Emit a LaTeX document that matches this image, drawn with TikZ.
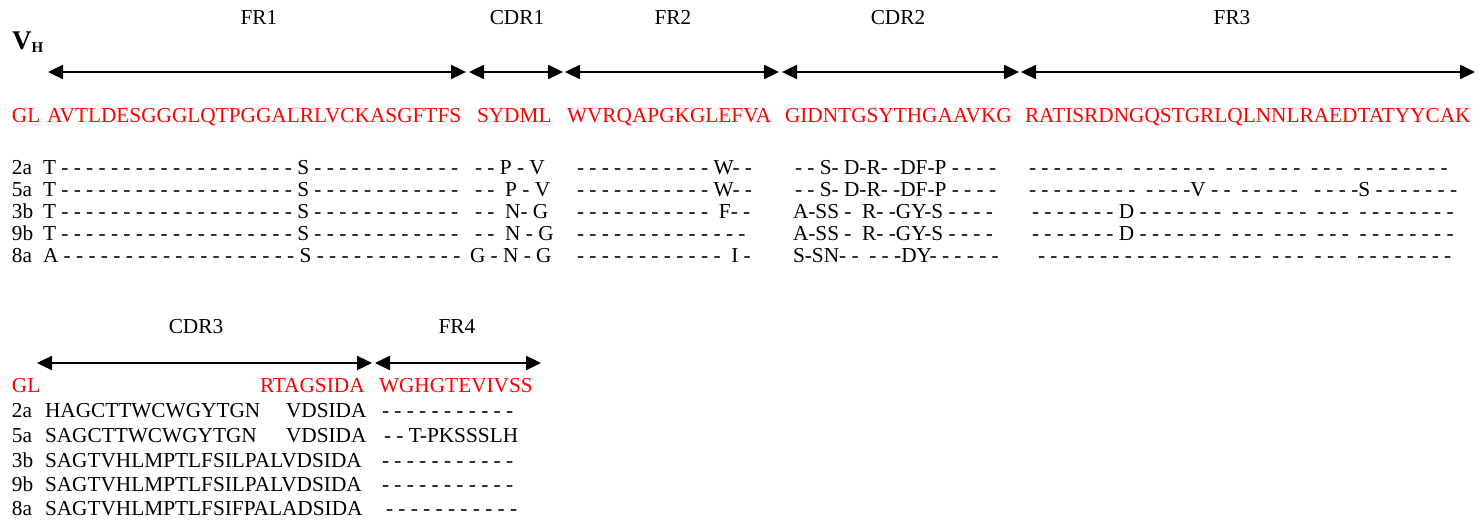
\documentclass[tikz,border=0pt]{standalone}
\usepackage{fontspec}
\setmainfont{Liberation Serif}
\usetikzlibrary{arrows.meta}
\definecolor{seqred}{RGB}{255,0,0}

% a run of n hyphens separated by single spaces
\newcommand\dashrun[1]{\foreach \dk in {1,...,#1}{\ifnum\dk>1 \ \fi-}}

\tikzset{
  txt/.style={anchor=base west, inner sep=0pt, outer sep=0pt, font=\fontsize{21.3}{24}\selectfont},
  germ/.style={txt, text=seqred},
  region/.style={anchor=base, inner sep=0pt, outer sep=0pt, font=\fontsize{21.3}{24}\selectfont},
  span/.style={line width=2.4pt, {Triangle[length=15pt,width=14pt]}-{Triangle[length=15pt,width=14pt]}},
}

\begin{document}
\begin{tikzpicture}[x=1pt,y=-1pt]
\useasboundingbox (0,0) rectangle (1483,521);

% ---------------- upper block: FR1 to FR3 ----------------
\node[anchor=base west, inner sep=0pt, font=\fontsize{27}{28}\selectfont\bfseries] (vh) at (12,50)
  {V\raisebox{-3pt}{\fontsize{15}{16}\selectfont H}};

\node[region] (lFR1)  at (259,25)  {FR1};
\node[region] (lCDR1) at (517,25)  {CDR1};
\node[region] (lFR2)  at (673,25)  {FR2};
\node[region] (lCDR2) at (898,25)  {CDR2};
\node[region] (lFR3)  at (1232,25) {FR3};

\coordinate (fr1a)  at (48,72);   \coordinate (fr1b)  at (466,72);
\coordinate (cdr1a) at (469,72);  \coordinate (cdr1b) at (563,72);
\coordinate (fr2a)  at (565,72);  \coordinate (fr2b)  at (779,72);
\coordinate (cdr2a) at (782,72);  \coordinate (cdr2b) at (1019,72);
\coordinate (fr3a)  at (1021,72); \coordinate (fr3b)  at (1475,72);
\draw[span] (fr1a) -- (fr1b);
\draw[span] (cdr1a) -- (cdr1b);
\draw[span] (fr2a) -- (fr2b);
\draw[span] (cdr2a) -- (cdr2b);
\draw[span] (fr3a) -- (fr3b);

% germline
\node[germ] (gl)    at (12,123)   {GL};
\node[germ] (glFR1) at (47,123)   {AVTLDESGGGLQTPGGALRLVCKASGFTFS};
\node[germ] (glC1)  at (477,123)  {SYDML};
\node[germ] (glFR2) at (567,123)  {WVRQAPGKGLEFVA};
\node[germ] (glC2)  at (785,123)  {GIDNTGSYTHGAAVKG};
\node[germ] (glFR3) at (1025,123) {RATISRDNGQSTGRLQLNNLRAEDTATYYCAK};

% clone 2a
\node[txt] (a2)   at (12,175)   {2a};
\node[txt] (a2f1) at (43,175)   {T \dashrun{19} S \dashrun{12}};
\node[txt] (a2c1) at (475,175)  {- - P - V};
\node[txt] (a2f2) at (577,175)  {\dashrun{11} W- -};
\node[txt] (a2c2) at (795,175)  {- - S- D-R- -DF-P - - - -};
\node[txt] (a2f3) at (1029,175) {\dashrun{8}~~\dashrun{7}~~\dashrun{3}~~\dashrun{3}~~\dashrun{3}~~\dashrun{8}};

% clone 5a
\node[txt] (a5)   at (12,197)   {5a};
\node[txt] (a5f1) at (43,197)   {T \dashrun{19} S \dashrun{12}};
\node[txt] (a5c1) at (475,197)  {- -~~P - V};
\node[txt] (a5f2) at (577,197)  {\dashrun{11} W- -};
\node[txt] (a5c2) at (795,197)  {- - S- D-R- -DF-P - - - -};
\node[txt] (a5f3) at (1029,197) {\dashrun{9}~~\dashrun{4}V \dashrun{2}~~\dashrun{5}~~~\dashrun{4}S \dashrun{7}};

% clone 3b
\node[txt] (b3)   at (12,219)   {3b};
\node[txt] (b3f1) at (43,219)   {T \dashrun{19} S \dashrun{12}};
\node[txt] (b3c1) at (475,219)  {- -~~N- G};
\node[txt] (b3f2) at (577,219)  {\dashrun{11}~~F- -};
\node[txt] (b3c2) at (793,219)  {A-SS -~~R- -GY-S - - - -};
\node[txt] (b3f3) at (1032,219) {\dashrun{7} D \dashrun{7}~~\dashrun{3}~~\dashrun{3}~~\dashrun{3}~~\dashrun{8}};

% clone 9b
\node[txt] (b9)   at (12,241)   {9b};
\node[txt] (b9f1) at (43,241)   {T \dashrun{19} S \dashrun{12}};
\node[txt] (b9c1) at (475,241)  {- -~~N - G};
\node[txt] (b9f2) at (577,241)  {\dashrun{14}};
\node[txt] (b9c2) at (793,241)  {A-SS -~~R- -GY-S - - - -};
\node[txt] (b9f3) at (1032,241) {\dashrun{7} D \dashrun{7}~~\dashrun{3}~~\dashrun{3}~~\dashrun{3}~~\dashrun{8}};

% clone 8a
\node[txt] (a8)   at (12,263)   {8a};
\node[txt] (a8f1) at (43,263)   {A \dashrun{19} S \dashrun{12}};
\node[txt] (a8c1) at (470,263)  {G - N - G};
\node[txt] (a8f2) at (577,263)  {\dashrun{12}~~I -};
\node[txt] (a8c2) at (793,263)  {S-SN- -~~\dashrun{3}DY-\ \dashrun{5}};
\node[txt] (a8f3) at (1038,263) {\dashrun{15}~~\dashrun{3}~~\dashrun{3}~~\dashrun{3}~~\dashrun{8}};

% ---------------- lower block: CDR3 and FR4 ----------------
\node[region] (lCDR3) at (196,334) {CDR3};
\node[region] (lFR4)  at (457,334) {FR4};

\coordinate (cdr3a) at (37,363);  \coordinate (cdr3b) at (372,363);
\coordinate (fr4a)  at (375,363); \coordinate (fr4b)  at (541,363);
\draw[span] (cdr3a) -- (cdr3b);
\draw[span] (fr4a) -- (fr4b);

\node[germ] (gl2)   at (12,392)  {GL};
\node[germ] (glC3)  at (260,392) {RTAGSIDA};
\node[germ] (glFR4) at (379,392) {WGHGTEVIVSS};

\node[txt] (la2)  at (12,417)  {2a};
\node[txt] (la2c) at (45,417)  {HAGCTTWCWGYTGN};
\node[txt] (la2d) at (286,417) {VDSIDA};
\node[txt] (la2f) at (382,417) {\dashrun{11}};

\node[txt] (la5)  at (12,442)  {5a};
\node[txt] (la5c) at (45,442)  {SAGCTTWCWGYTGN};
\node[txt] (la5d) at (286,442) {VDSIDA};
\node[txt] (la5f) at (384,442) {- - T-PKSSSLH};

\node[txt] (lb3)  at (12,467)  {3b};
\node[txt] (lb3c) at (45,467)  {SAGTVHLMPTLFSILPALVDSIDA};
\node[txt] (lb3f) at (382,467) {\dashrun{11}};

\node[txt] (lb9)  at (12,491)  {9b};
\node[txt] (lb9c) at (45,491)  {SAGTVHLMPTLFSILPALVDSIDA};
\node[txt] (lb9f) at (382,491) {\dashrun{11}};

\node[txt] (la8)  at (12,515)  {8a};
\node[txt] (la8c) at (45,515)  {SAGTVHLMPTLFSIFPALADSIDA};
\node[txt] (la8f) at (386,515) {\dashrun{11}};
\end{tikzpicture}
\end{document}
